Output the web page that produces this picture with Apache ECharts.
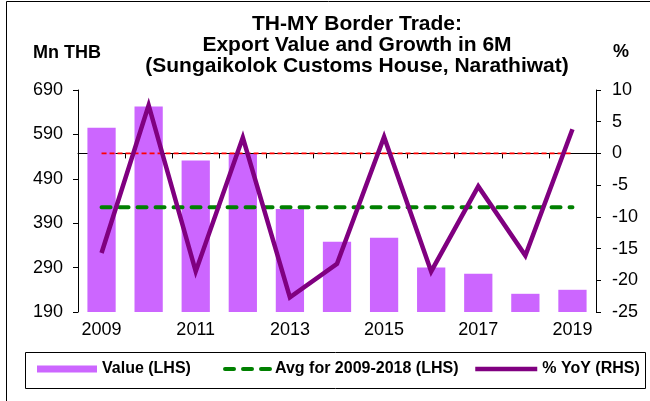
<!DOCTYPE html>
<html>
<head>
<meta charset="utf-8">
<script src="https://cdn.jsdelivr.net/npm/echarts@6/dist/echarts.min.js"></script>
<style>
  html, body { margin: 0; padding: 0; background: #fff; }
  #chart { width: 650px; height: 401px; }
</style>
</head>
<body>
<div id="chart"></div>
<script>
// Export value through Sungaikolok Customs House, first six months of each year
const years = ['2009', '2010', '2011', '2012', '2013', '2014', '2015', '2016', '2017', '2018', '2019'];
const exportValue = [605, 653, 531, 546, 422, 348, 357, 290, 276, 231, 240];      // Mn THB
const avgValue = [426, 426, 426, 426, 426, 426, 426, 426, 426, 426, 426];         // 2009-2018 average, Mn THB
const yoyPct = [-15.7, 7.6, -18.6, 2.5, -22.7, -17.4, 2.6, -18.6, -5.2, -16.1, 3.8]; // % YoY
const zeroLine = [0, 0, 0, 0, 0, 0, 0, 0, 0, 0, 0];                               // 0% reference
const leftTicks = [190, 290, 390, 490, 590, 690];

const FONT = '"Liberation Sans", Arial, sans-serif';

const chart = echarts.init(document.getElementById('chart'), null, { renderer: 'canvas' });

const legendText = { fontFamily: FONT, fontSize: 16, fontWeight: 'bold', color: '#000' };

chart.setOption({
  animation: false,
  backgroundColor: '#fff',
  textStyle: { fontFamily: FONT },
  grid: { left: 78, right: 54, top: 90, bottom: 89, containLabel: false },
  graphic: [
    { type: 'rect', shape: { x: 6.5, y: 1.5, width: 700, height: 450 }, style: { fill: 'none', stroke: '#000', lineWidth: 1 }, silent: true },
    { type: 'rect', shape: { x: 25.5, y: 352.5, width: 620, height: 36 }, style: { fill: '#fff', stroke: '#000', lineWidth: 1 }, silent: true, z: -1 },
    { type: 'text', x: 357, y: 24.5, style: { text: 'TH-MY Border Trade:', font: 'bold 21px ' + FONT, textAlign: 'center', textVerticalAlign: 'middle', fill: '#000' } },
    { type: 'text', x: 357, y: 45.5, style: { text: 'Export Value and Growth in 6M', font: 'bold 21px ' + FONT, textAlign: 'center', textVerticalAlign: 'middle', fill: '#000' } },
    { type: 'text', x: 357, y: 66.5, style: { text: '(Sungaikolok Customs House, Narathiwat)', font: 'bold 21px ' + FONT, textAlign: 'center', textVerticalAlign: 'middle', fill: '#000' } },
    { type: 'text', x: 67, y: 53, style: { text: 'Mn THB', font: 'bold 18px ' + FONT, textAlign: 'center', textVerticalAlign: 'middle', fill: '#000' } },
    { type: 'text', x: 621, y: 52, style: { text: '%', font: 'bold 18px ' + FONT, textAlign: 'center', textVerticalAlign: 'middle', fill: '#000' } }
  ],
  legend: [
    { data: ['Value (LHS)'], left: 37, top: 361, padding: 0, icon: 'rect', itemWidth: 60, itemHeight: 7, textStyle: legendText, selectedMode: false },
    { data: ['Avg for 2009-2018 (LHS)'], left: 223, top: 361, padding: 0, itemWidth: 45, itemHeight: 14, textStyle: legendText, selectedMode: false,
      itemStyle: { opacity: 0 }, lineStyle: { width: 4, type: [9, 9], cap: 'round' } },
    { data: ['% YoY (RHS)'], left: 473, top: 361, padding: 0, itemWidth: 62, itemHeight: 14, textStyle: legendText, selectedMode: false,
      itemStyle: { opacity: 0 }, lineStyle: { width: 4.5 } }
  ],
  xAxis: {
    type: 'category',
    data: years,
    boundaryGap: true,
    axisLine: { lineStyle: { color: '#000', width: 1 } },
    axisTick: { show: true, interval: 0, length: 5, lineStyle: { color: '#000' } },
    axisLabel: { interval: 1, margin: 9, fontSize: 18, color: '#000', fontFamily: FONT },
    splitLine: { show: false }
  },
  yAxis: [
    {
      type: 'value',
      min: 190,
      max: 690,
      position: 'left',
      axisLine: { show: true, lineStyle: { color: '#000', width: 1 } },
      axisTick: { show: true, length: 5, customValues: leftTicks, lineStyle: { color: '#000' } },
      axisLabel: { customValues: leftTicks, margin: 15, fontSize: 18, color: '#000', fontFamily: FONT },
      splitLine: { show: false }
    },
    {
      type: 'value',
      min: -25,
      max: 10,
      interval: 5,
      position: 'right',
      axisLine: { show: true, lineStyle: { color: '#000', width: 1 } },
      axisTick: { show: true, length: 5, lineStyle: { color: '#000' } },
      axisLabel: { margin: 16, fontSize: 18, color: '#000', fontFamily: FONT },
      splitLine: { show: false }
    }
  ],
  series: [
    {
      name: 'Value (LHS)',
      type: 'bar',
      yAxisIndex: 0,
      data: exportValue,
      barWidth: '60%',
      itemStyle: { color: '#CC66FF' },
      z: 1
    },
    {
      name: '0%',
      type: 'line',
      yAxisIndex: 1,
      data: zeroLine,
      symbol: 'none',
      silent: true,
      lineStyle: { color: '#FF0000', width: 1.8, type: [5, 3] },
      itemStyle: { color: '#FF0000' },
      z: 2
    },
    {
      name: 'Avg for 2009-2018 (LHS)',
      type: 'line',
      yAxisIndex: 0,
      data: avgValue,
      symbol: 'none',
      lineStyle: { color: '#008000', width: 4, type: [9, 9], cap: 'round' },
      itemStyle: { color: '#008000' },
      z: 3
    },
    {
      name: '% YoY (RHS)',
      type: 'line',
      yAxisIndex: 1,
      data: yoyPct,
      symbol: 'none',
      lineStyle: { color: '#800080', width: 4.5, join: 'miter' },
      itemStyle: { color: '#800080' },
      z: 4
    }
  ]
});
</script>
</body>
</html>
